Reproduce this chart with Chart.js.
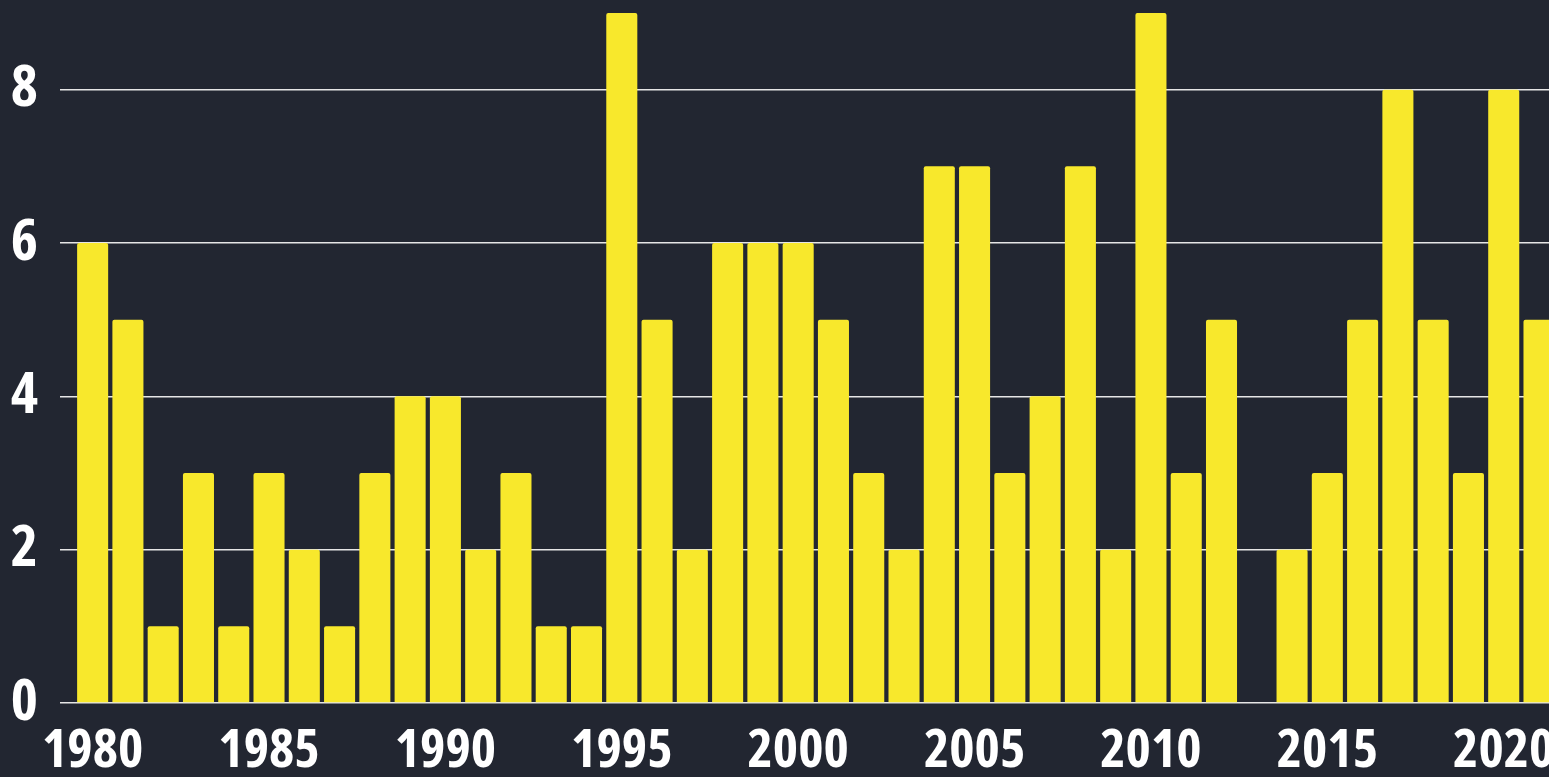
<!DOCTYPE html>
<html lang="en">
<head>
  <meta charset="UTF-8">
  <title>Yearly count</title>
  <script src="https://cdn.jsdelivr.net/npm/chart.js"></script>
  <style>
    html, body {
      margin: 0;
      padding: 0;
      background-color: #222631;
      overflow: hidden;
    }
    .chart-wrap {
      width: 1561px;
      height: 777px;
    }
  </style>
</head>
<body>
  <div class="chart-wrap">
    <canvas id="yearChart"></canvas>
  </div>

  <script>
    const years = [
      1980, 1981, 1982, 1983, 1984, 1985, 1986, 1987, 1988, 1989,
      1990, 1991, 1992, 1993, 1994, 1995, 1996, 1997, 1998, 1999,
      2000, 2001, 2002, 2003, 2004, 2005, 2006, 2007, 2008, 2009,
      2010, 2011, 2012, 2013, 2014, 2015, 2016, 2017, 2018, 2019,
      2020, 2021
    ];
    const counts = [
      6, 5, 1, 3, 1, 3, 2, 1, 3, 4,
      4, 2, 3, 1, 1, 9, 5, 2, 6, 6,
      6, 5, 3, 2, 7, 7, 3, 4, 7, 2,
      9, 3, 5, 0, 2, 3, 5, 8, 5, 3,
      8, 5
    ];
    const yTicks = [0, 2, 4, 6, 8];

    // no narrow font installed, ask for a condensed face and fall back
    const labelFont = "'Open Sans', 'Liberation Sans', sans-serif";
    const labelWeight = 'bold extra-condensed';

    const ctx = document.getElementById('yearChart').getContext('2d');
    const yearChart = new Chart(ctx, {
      type: 'bar',
      data: {
        labels: years,
        datasets: [{
          data: counts,
          backgroundColor: '#f8e82c',
          borderWidth: 0,
          borderRadius: 2,
          barPercentage: 0.88,
          categoryPercentage: 1
        }]
      },
      options: {
        responsive: true,
        maintainAspectRatio: false,
        animation: false,
        layout: { padding: 0 },
        plugins: {
          legend: { display: false },
          tooltip: { enabled: false }
        },
        scales: {
          x: {
            grid: { display: false, drawTicks: false },
            border: { display: false },
            afterFit: function (axis) {
              axis.height = 74;
            },
            ticks: {
              color: '#ffffff',
              autoSkip: false,
              maxRotation: 0,
              padding: 22,
              font: { family: labelFont, size: 54, weight: labelWeight, lineHeight: 1 },
              callback: function (value, index) {
                const yr = years[index];
                return yr % 5 === 0 ? String(yr) : '';
              }
            }
          },
          y: {
            min: 0,
            max: 9.17,
            afterBuildTicks: function (axis) {
              axis.ticks = yTicks.map(v => ({ value: v }));
            },
            afterFit: function (axis) {
              axis.width = 75;
              axis.paddingTop = 0;
              axis.paddingBottom = 0;
            },
            grid: {
              color: '#e6e6e6',
              lineWidth: 1.5,
              drawTicks: true,
              tickLength: 15
            },
            border: { display: false },
            ticks: {
              color: '#ffffff',
              padding: 22,
              font: { family: labelFont, size: 58, weight: labelWeight, lineHeight: 1 }
            }
          }
        }
      }
    });
  </script>
</body>
</html>
